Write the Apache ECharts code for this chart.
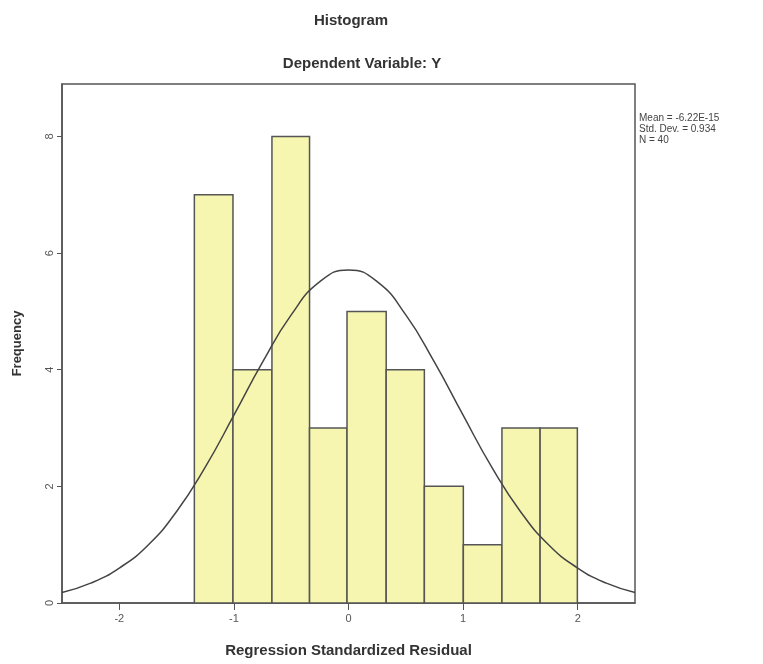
<!DOCTYPE html>
<html>
<head>
<meta charset="utf-8">
<script src="https://cdn.jsdelivr.net/npm/echarts@6/dist/echarts.min.js"></script>
<style>html,body{margin:0;padding:0;background:#fff;}#c{width:763px;height:664px;}</style>
</head>
<body>
<div id="c"></div>
<script>
// Histogram bin edges (residual scale) and frequencies
const binEdges = [-1.345, -1.008, -0.668, -0.34, -0.013, 0.329, 0.662, 1.002, 1.339, 1.672, 1.997];
const frequencies = [7, 4, 8, 3, 5, 4, 2, 1, 3, 3];
// Normal curve
const curveX = [-2.5, -2.25, -2.0, -1.75, -1.5, -1.25, -1.0, -0.75, -0.5, -0.25, 0, 0.25, 0.5, 0.75, 1.0, 1.25, 1.5, 1.75, 2.0, 2.25, 2.5];
const curveY = [0.18, 0.34, 0.6, 0.99, 1.57, 2.33, 3.22, 4.13, 4.94, 5.51, 5.71, 5.51, 4.94, 4.13, 3.22, 2.33, 1.57, 0.99, 0.6, 0.34, 0.18];
const xTicks = [-2, -1, 0, 1, 2];
const yTicks = [0, 2, 4, 6, 8];
const statsLines = ['Mean = -6.22E-15', 'Std. Dev. = 0.934', 'N = 40'];

const barData = frequencies.map((f, i) => [binEdges[i], binEdges[i + 1], f]);
const lineData = curveX.map((x, i) => [x, curveY[i]]);

const chart = echarts.init(document.getElementById('c'), null, { renderer: 'canvas' });
const font = 'Liberation Sans, Arial, sans-serif';
chart.setOption({
  backgroundColor: '#fff',
  animation: false,
  title: [
    { text: 'Histogram', left: 346, top: 8, textAlign: 'center',
      textStyle: { fontFamily: font, fontSize: 15, fontWeight: 'bold', color: '#333' } },
    { text: 'Dependent Variable: Y', left: 357, top: 51, textAlign: 'center',
      textStyle: { fontFamily: font, fontSize: 15, fontWeight: 'bold', color: '#333' } }
  ],
  grid: { left: 62, right: 128, top: 84, bottom: 61, show: true, borderColor: '#555', borderWidth: 1.5, backgroundColor: '#fff' },
  xAxis: {
    type: 'value', min: -2.5, max: 2.5,
    name: 'Regression Standardized Residual', nameLocation: 'middle', nameGap: 40,
    nameTextStyle: { fontFamily: font, fontSize: 15, fontWeight: 'bold', color: '#333' },
    axisLine: { show: true, onZero: false, lineStyle: { color: '#555', width: 1.5 } },
    axisTick: { show: true, customValues: xTicks, length: 7, lineStyle: { color: '#555' } },
    axisLabel: { customValues: xTicks, fontFamily: font, fontSize: 11, color: '#555', margin: 10 },
    splitLine: { show: false }
  },
  yAxis: {
    type: 'value', min: 0, max: 8.9, interval: 2,
    name: 'Frequency', nameLocation: 'middle', nameGap: 38,
    nameTextStyle: { fontFamily: font, fontSize: 13, fontWeight: 'bold', color: '#333' },
    axisLine: { show: true, onZero: false, lineStyle: { color: '#555', width: 1.5 } },
    axisTick: { show: true, customValues: yTicks, length: 5, lineStyle: { color: '#555' } },
    axisLabel: { customValues: yTicks, rotate: 90, fontFamily: font, fontSize: 11, color: '#555', margin: 7 },
    splitLine: { show: false }
  },
  graphic: statsLines.map((t, i) => ({
    type: 'text', left: 639, top: 113 + i * 11,
    style: { text: t, fontFamily: font, fontSize: 10, fill: '#444' }
  })),
  series: [
    {
      type: 'custom',
      data: barData,
      encode: { x: [0, 1], y: 2 },
      renderItem: function (params, api) {
        const p0 = api.coord([api.value(0), 0]);
        const p1 = api.coord([api.value(1), api.value(2)]);
        return {
          type: 'rect',
          shape: { x: p0[0], y: p1[1], width: p1[0] - p0[0], height: p0[1] - p1[1] },
          style: { fill: '#f6f6b0', stroke: '#555', lineWidth: 1.5 }
        };
      }
    },
    {
      type: 'line', data: lineData, smooth: true, showSymbol: false,
      lineStyle: { color: '#444', width: 1.5 }, z: 5
    }
  ]
});
</script>
</body>
</html>
